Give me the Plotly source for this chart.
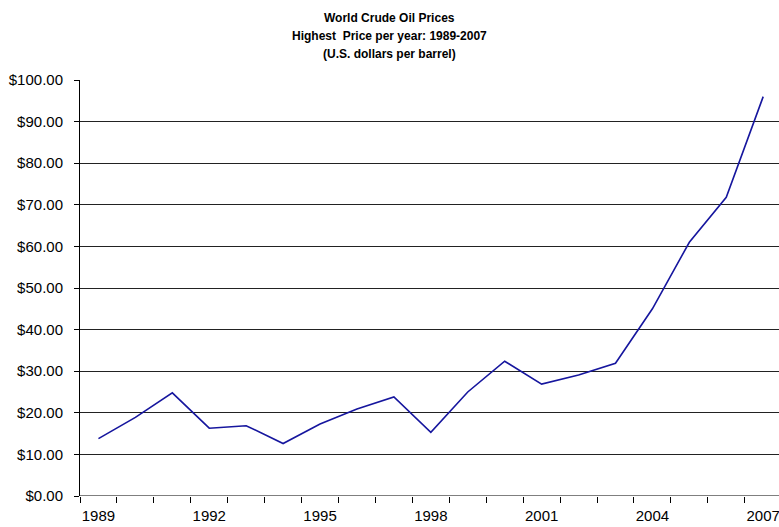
import plotly.graph_objects as go

years = list(range(1989, 2008))
prices = [13.8, 18.9, 24.8, 16.3, 16.9, 12.6, 17.3, 20.9, 23.8, 15.3,
          25.0, 32.4, 26.9, 29.1, 31.9, 45.0, 61.0, 71.8, 96.0]
label_years = [1989, 1992, 1995, 1998, 2001, 2004, 2007]
y_ticks = list(range(0, 101, 10))
y_labels = [f"${v:.2f}" for v in y_ticks]
title_lines = ["World Crude Oil Prices",
               "Highest  Price per year: 1989-2007",
               "(U.S. dollars per barrel)"]

W, H = 779, 527
T, B, L = 79.5, 31.3, 80
plot_h = H - T - B

fig = go.Figure()
fig.add_trace(go.Scatter(x=years, y=prices, mode="lines",
                         line=dict(color="#16169e", width=1.6),
                         showlegend=False, hoverinfo="skip"))

fig.update_layout(
    width=W, height=H,
    margin=dict(l=L, r=0, t=T, b=B, pad=0),
    paper_bgcolor="white", plot_bgcolor="white",
    font=dict(family="Liberation Sans, Arial, sans-serif", color="black"),
    xaxis=dict(
        range=[1988.5, 1988.5 + (W - L) / 36.93],
        tickmode="array", tickvals=label_years, ticktext=[str(y) for y in label_years],
        ticks="", showgrid=False, zeroline=False, showline=False,
        tickfont=dict(size=15), ticklabelstandoff=9,
        ticklabeloverflow="allow", automargin=False,
        minor=dict(tickmode="linear", tick0=1988.5, dtick=1, ticks="outside",
                   ticklen=6, tickcolor="black", tickwidth=1, showgrid=False),
    ),
    yaxis=dict(
        range=[0, 100],
        tickmode="array", tickvals=y_ticks, ticktext=y_labels,
        ticks="outside", ticklen=5, tickcolor="black",
        showgrid=True, gridcolor="#222", gridwidth=1,
        zeroline=False, showline=True, linecolor="black", linewidth=1,
        tickfont=dict(size=15), ticklabelstandoff=8, automargin=False,
    ),
)
fig.add_shape(type="line", xref="paper", yref="y", x0=0, x1=1, y0=0, y1=0,
              line=dict(color="black", width=1.2))

for i, (txt, ypix) in enumerate(zip(title_lines, [17, 35, 53])):
    fig.add_annotation(text=f"<b>{txt}</b>", xref="paper", yref="paper",
                       x=(W / 2 - L) / (W - L), y=1 + (T - ypix) / plot_h,
                       xanchor="center", yanchor="middle", showarrow=False,
                       font=dict(size=12, color="black"))

fig.write_html("out.html", config={"displayModeBar": False},
               post_script="document.body.style.margin='0';")
